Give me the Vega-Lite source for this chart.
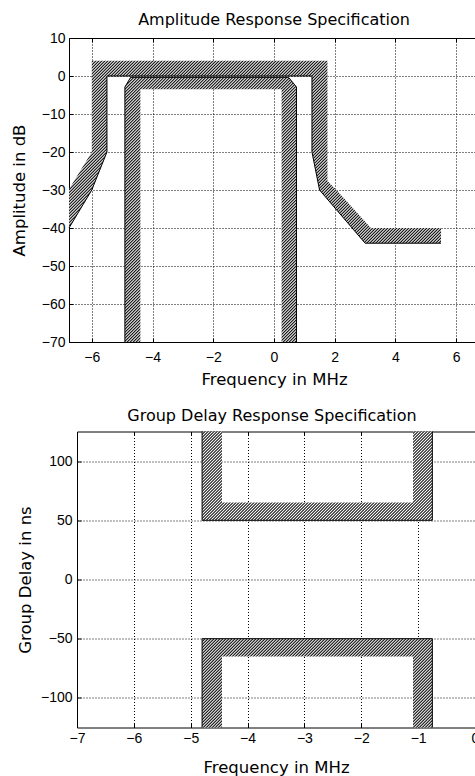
{
  "$schema": "https://vega.github.io/schema/vega-lite/v6.json",
  "padding": {"left": 10, "top": 11, "right": 0, "bottom": 0},
  "background": "white",
  "params": [
    {"name": "hatch", "value": [
{"offset":0,"color":"#000"},{"offset":0.0025,"color":"#fff"},{"offset":0.005,"color":"#000"},{"offset":0.0075,"color":"#fff"},
{"offset":0.01,"color":"#000"},{"offset":0.0125,"color":"#fff"},{"offset":0.015,"color":"#000"},{"offset":0.0175,"color":"#fff"},
{"offset":0.02,"color":"#000"},{"offset":0.0225,"color":"#fff"},{"offset":0.025,"color":"#000"},{"offset":0.0275,"color":"#fff"},
{"offset":0.03,"color":"#000"},{"offset":0.0325,"color":"#fff"},{"offset":0.035,"color":"#000"},{"offset":0.0375,"color":"#fff"},
{"offset":0.04,"color":"#000"},{"offset":0.0425,"color":"#fff"},{"offset":0.045,"color":"#000"},{"offset":0.0475,"color":"#fff"},
{"offset":0.05,"color":"#000"},{"offset":0.0525,"color":"#fff"},{"offset":0.055,"color":"#000"},{"offset":0.0575,"color":"#fff"},
{"offset":0.06,"color":"#000"},{"offset":0.0625,"color":"#fff"},{"offset":0.065,"color":"#000"},{"offset":0.0675,"color":"#fff"},
{"offset":0.07,"color":"#000"},{"offset":0.0725,"color":"#fff"},{"offset":0.075,"color":"#000"},{"offset":0.0775,"color":"#fff"},
{"offset":0.08,"color":"#000"},{"offset":0.0825,"color":"#fff"},{"offset":0.085,"color":"#000"},{"offset":0.0875,"color":"#fff"},
{"offset":0.09,"color":"#000"},{"offset":0.0925,"color":"#fff"},{"offset":0.095,"color":"#000"},{"offset":0.0975,"color":"#fff"},
{"offset":0.10,"color":"#000"},{"offset":0.1025,"color":"#fff"},{"offset":0.105,"color":"#000"},{"offset":0.1075,"color":"#fff"},
{"offset":0.11,"color":"#000"},{"offset":0.1125,"color":"#fff"},{"offset":0.115,"color":"#000"},{"offset":0.1175,"color":"#fff"},
{"offset":0.12,"color":"#000"},{"offset":0.1225,"color":"#fff"},{"offset":0.125,"color":"#000"},{"offset":0.1275,"color":"#fff"},
{"offset":0.13,"color":"#000"},{"offset":0.1325,"color":"#fff"},{"offset":0.135,"color":"#000"},{"offset":0.1375,"color":"#fff"},
{"offset":0.14,"color":"#000"},{"offset":0.1425,"color":"#fff"},{"offset":0.145,"color":"#000"},{"offset":0.1475,"color":"#fff"},
{"offset":0.15,"color":"#000"},{"offset":0.1525,"color":"#fff"},{"offset":0.155,"color":"#000"},{"offset":0.1575,"color":"#fff"},
{"offset":0.16,"color":"#000"},{"offset":0.1625,"color":"#fff"},{"offset":0.165,"color":"#000"},{"offset":0.1675,"color":"#fff"},
{"offset":0.17,"color":"#000"},{"offset":0.1725,"color":"#fff"},{"offset":0.175,"color":"#000"},{"offset":0.1775,"color":"#fff"},
{"offset":0.18,"color":"#000"},{"offset":0.1825,"color":"#fff"},{"offset":0.185,"color":"#000"},{"offset":0.1875,"color":"#fff"},
{"offset":0.19,"color":"#000"},{"offset":0.1925,"color":"#fff"},{"offset":0.195,"color":"#000"},{"offset":0.1975,"color":"#fff"},
{"offset":0.20,"color":"#000"},{"offset":0.2025,"color":"#fff"},{"offset":0.205,"color":"#000"},{"offset":0.2075,"color":"#fff"},
{"offset":0.21,"color":"#000"},{"offset":0.2125,"color":"#fff"},{"offset":0.215,"color":"#000"},{"offset":0.2175,"color":"#fff"},
{"offset":0.22,"color":"#000"},{"offset":0.2225,"color":"#fff"},{"offset":0.225,"color":"#000"},{"offset":0.2275,"color":"#fff"},
{"offset":0.23,"color":"#000"},{"offset":0.2325,"color":"#fff"},{"offset":0.235,"color":"#000"},{"offset":0.2375,"color":"#fff"},
{"offset":0.24,"color":"#000"},{"offset":0.2425,"color":"#fff"},{"offset":0.245,"color":"#000"},{"offset":0.2475,"color":"#fff"},
{"offset":0.25,"color":"#000"},{"offset":0.2525,"color":"#fff"},{"offset":0.255,"color":"#000"},{"offset":0.2575,"color":"#fff"},
{"offset":0.26,"color":"#000"},{"offset":0.2625,"color":"#fff"},{"offset":0.265,"color":"#000"},{"offset":0.2675,"color":"#fff"},
{"offset":0.27,"color":"#000"},{"offset":0.2725,"color":"#fff"},{"offset":0.275,"color":"#000"},{"offset":0.2775,"color":"#fff"},
{"offset":0.28,"color":"#000"},{"offset":0.2825,"color":"#fff"},{"offset":0.285,"color":"#000"},{"offset":0.2875,"color":"#fff"},
{"offset":0.29,"color":"#000"},{"offset":0.2925,"color":"#fff"},{"offset":0.295,"color":"#000"},{"offset":0.2975,"color":"#fff"},
{"offset":0.30,"color":"#000"},{"offset":0.3025,"color":"#fff"},{"offset":0.305,"color":"#000"},{"offset":0.3075,"color":"#fff"},
{"offset":0.31,"color":"#000"},{"offset":0.3125,"color":"#fff"},{"offset":0.315,"color":"#000"},{"offset":0.3175,"color":"#fff"},
{"offset":0.32,"color":"#000"},{"offset":0.3225,"color":"#fff"},{"offset":0.325,"color":"#000"},{"offset":0.3275,"color":"#fff"},
{"offset":0.33,"color":"#000"},{"offset":0.3325,"color":"#fff"},{"offset":0.335,"color":"#000"},{"offset":0.3375,"color":"#fff"},
{"offset":0.34,"color":"#000"},{"offset":0.3425,"color":"#fff"},{"offset":0.345,"color":"#000"},{"offset":0.3475,"color":"#fff"},
{"offset":0.35,"color":"#000"},{"offset":0.3525,"color":"#fff"},{"offset":0.355,"color":"#000"},{"offset":0.3575,"color":"#fff"},
{"offset":0.36,"color":"#000"},{"offset":0.3625,"color":"#fff"},{"offset":0.365,"color":"#000"},{"offset":0.3675,"color":"#fff"},
{"offset":0.37,"color":"#000"},{"offset":0.3725,"color":"#fff"},{"offset":0.375,"color":"#000"},{"offset":0.3775,"color":"#fff"},
{"offset":0.38,"color":"#000"},{"offset":0.3825,"color":"#fff"},{"offset":0.385,"color":"#000"},{"offset":0.3875,"color":"#fff"},
{"offset":0.39,"color":"#000"},{"offset":0.3925,"color":"#fff"},{"offset":0.395,"color":"#000"},{"offset":0.3975,"color":"#fff"},
{"offset":0.40,"color":"#000"},{"offset":0.4025,"color":"#fff"},{"offset":0.405,"color":"#000"},{"offset":0.4075,"color":"#fff"},
{"offset":0.41,"color":"#000"},{"offset":0.4125,"color":"#fff"},{"offset":0.415,"color":"#000"},{"offset":0.4175,"color":"#fff"},
{"offset":0.42,"color":"#000"},{"offset":0.4225,"color":"#fff"},{"offset":0.425,"color":"#000"},{"offset":0.4275,"color":"#fff"},
{"offset":0.43,"color":"#000"},{"offset":0.4325,"color":"#fff"},{"offset":0.435,"color":"#000"},{"offset":0.4375,"color":"#fff"},
{"offset":0.44,"color":"#000"},{"offset":0.4425,"color":"#fff"},{"offset":0.445,"color":"#000"},{"offset":0.4475,"color":"#fff"},
{"offset":0.45,"color":"#000"},{"offset":0.4525,"color":"#fff"},{"offset":0.455,"color":"#000"},{"offset":0.4575,"color":"#fff"},
{"offset":0.46,"color":"#000"},{"offset":0.4625,"color":"#fff"},{"offset":0.465,"color":"#000"},{"offset":0.4675,"color":"#fff"},
{"offset":0.47,"color":"#000"},{"offset":0.4725,"color":"#fff"},{"offset":0.475,"color":"#000"},{"offset":0.4775,"color":"#fff"},
{"offset":0.48,"color":"#000"},{"offset":0.4825,"color":"#fff"},{"offset":0.485,"color":"#000"},{"offset":0.4875,"color":"#fff"},
{"offset":0.49,"color":"#000"},{"offset":0.4925,"color":"#fff"},{"offset":0.495,"color":"#000"},{"offset":0.4975,"color":"#fff"},
{"offset":0.50,"color":"#000"},{"offset":0.5025,"color":"#fff"},{"offset":0.505,"color":"#000"},{"offset":0.5075,"color":"#fff"},
{"offset":0.51,"color":"#000"},{"offset":0.5125,"color":"#fff"},{"offset":0.515,"color":"#000"},{"offset":0.5175,"color":"#fff"},
{"offset":0.52,"color":"#000"},{"offset":0.5225,"color":"#fff"},{"offset":0.525,"color":"#000"},{"offset":0.5275,"color":"#fff"},
{"offset":0.53,"color":"#000"},{"offset":0.5325,"color":"#fff"},{"offset":0.535,"color":"#000"},{"offset":0.5375,"color":"#fff"},
{"offset":0.54,"color":"#000"},{"offset":0.5425,"color":"#fff"},{"offset":0.545,"color":"#000"},{"offset":0.5475,"color":"#fff"},
{"offset":0.55,"color":"#000"},{"offset":0.5525,"color":"#fff"},{"offset":0.555,"color":"#000"},{"offset":0.5575,"color":"#fff"},
{"offset":0.56,"color":"#000"},{"offset":0.5625,"color":"#fff"},{"offset":0.565,"color":"#000"},{"offset":0.5675,"color":"#fff"},
{"offset":0.57,"color":"#000"},{"offset":0.5725,"color":"#fff"},{"offset":0.575,"color":"#000"},{"offset":0.5775,"color":"#fff"},
{"offset":0.58,"color":"#000"},{"offset":0.5825,"color":"#fff"},{"offset":0.585,"color":"#000"},{"offset":0.5875,"color":"#fff"},
{"offset":0.59,"color":"#000"},{"offset":0.5925,"color":"#fff"},{"offset":0.595,"color":"#000"},{"offset":0.5975,"color":"#fff"},
{"offset":0.60,"color":"#000"},{"offset":0.6025,"color":"#fff"},{"offset":0.605,"color":"#000"},{"offset":0.6075,"color":"#fff"},
{"offset":0.61,"color":"#000"},{"offset":0.6125,"color":"#fff"},{"offset":0.615,"color":"#000"},{"offset":0.6175,"color":"#fff"},
{"offset":0.62,"color":"#000"},{"offset":0.6225,"color":"#fff"},{"offset":0.625,"color":"#000"},{"offset":0.6275,"color":"#fff"},
{"offset":0.63,"color":"#000"},{"offset":0.6325,"color":"#fff"},{"offset":0.635,"color":"#000"},{"offset":0.6375,"color":"#fff"},
{"offset":0.64,"color":"#000"},{"offset":0.6425,"color":"#fff"},{"offset":0.645,"color":"#000"},{"offset":0.6475,"color":"#fff"},
{"offset":0.65,"color":"#000"},{"offset":0.6525,"color":"#fff"},{"offset":0.655,"color":"#000"},{"offset":0.6575,"color":"#fff"},
{"offset":0.66,"color":"#000"},{"offset":0.6625,"color":"#fff"},{"offset":0.665,"color":"#000"},{"offset":0.6675,"color":"#fff"},
{"offset":0.67,"color":"#000"},{"offset":0.6725,"color":"#fff"},{"offset":0.675,"color":"#000"},{"offset":0.6775,"color":"#fff"},
{"offset":0.68,"color":"#000"},{"offset":0.6825,"color":"#fff"},{"offset":0.685,"color":"#000"},{"offset":0.6875,"color":"#fff"},
{"offset":0.69,"color":"#000"},{"offset":0.6925,"color":"#fff"},{"offset":0.695,"color":"#000"},{"offset":0.6975,"color":"#fff"},
{"offset":0.70,"color":"#000"},{"offset":0.7025,"color":"#fff"},{"offset":0.705,"color":"#000"},{"offset":0.7075,"color":"#fff"},
{"offset":0.71,"color":"#000"},{"offset":0.7125,"color":"#fff"},{"offset":0.715,"color":"#000"},{"offset":0.7175,"color":"#fff"},
{"offset":0.72,"color":"#000"},{"offset":0.7225,"color":"#fff"},{"offset":0.725,"color":"#000"},{"offset":0.7275,"color":"#fff"},
{"offset":0.73,"color":"#000"},{"offset":0.7325,"color":"#fff"},{"offset":0.735,"color":"#000"},{"offset":0.7375,"color":"#fff"},
{"offset":0.74,"color":"#000"},{"offset":0.7425,"color":"#fff"},{"offset":0.745,"color":"#000"},{"offset":0.7475,"color":"#fff"},
{"offset":0.75,"color":"#000"},{"offset":0.7525,"color":"#fff"},{"offset":0.755,"color":"#000"},{"offset":0.7575,"color":"#fff"},
{"offset":0.76,"color":"#000"},{"offset":0.7625,"color":"#fff"},{"offset":0.765,"color":"#000"},{"offset":0.7675,"color":"#fff"},
{"offset":0.77,"color":"#000"},{"offset":0.7725,"color":"#fff"},{"offset":0.775,"color":"#000"},{"offset":0.7775,"color":"#fff"},
{"offset":0.78,"color":"#000"},{"offset":0.7825,"color":"#fff"},{"offset":0.785,"color":"#000"},{"offset":0.7875,"color":"#fff"},
{"offset":0.79,"color":"#000"},{"offset":0.7925,"color":"#fff"},{"offset":0.795,"color":"#000"},{"offset":0.7975,"color":"#fff"},
{"offset":0.80,"color":"#000"},{"offset":0.8025,"color":"#fff"},{"offset":0.805,"color":"#000"},{"offset":0.8075,"color":"#fff"},
{"offset":0.81,"color":"#000"},{"offset":0.8125,"color":"#fff"},{"offset":0.815,"color":"#000"},{"offset":0.8175,"color":"#fff"},
{"offset":0.82,"color":"#000"},{"offset":0.8225,"color":"#fff"},{"offset":0.825,"color":"#000"},{"offset":0.8275,"color":"#fff"},
{"offset":0.83,"color":"#000"},{"offset":0.8325,"color":"#fff"},{"offset":0.835,"color":"#000"},{"offset":0.8375,"color":"#fff"},
{"offset":0.84,"color":"#000"},{"offset":0.8425,"color":"#fff"},{"offset":0.845,"color":"#000"},{"offset":0.8475,"color":"#fff"},
{"offset":0.85,"color":"#000"},{"offset":0.8525,"color":"#fff"},{"offset":0.855,"color":"#000"},{"offset":0.8575,"color":"#fff"},
{"offset":0.86,"color":"#000"},{"offset":0.8625,"color":"#fff"},{"offset":0.865,"color":"#000"},{"offset":0.8675,"color":"#fff"},
{"offset":0.87,"color":"#000"},{"offset":0.8725,"color":"#fff"},{"offset":0.875,"color":"#000"},{"offset":0.8775,"color":"#fff"},
{"offset":0.88,"color":"#000"},{"offset":0.8825,"color":"#fff"},{"offset":0.885,"color":"#000"},{"offset":0.8875,"color":"#fff"},
{"offset":0.89,"color":"#000"},{"offset":0.8925,"color":"#fff"},{"offset":0.895,"color":"#000"},{"offset":0.8975,"color":"#fff"},
{"offset":0.90,"color":"#000"},{"offset":0.9025,"color":"#fff"},{"offset":0.905,"color":"#000"},{"offset":0.9075,"color":"#fff"},
{"offset":0.91,"color":"#000"},{"offset":0.9125,"color":"#fff"},{"offset":0.915,"color":"#000"},{"offset":0.9175,"color":"#fff"},
{"offset":0.92,"color":"#000"},{"offset":0.9225,"color":"#fff"},{"offset":0.925,"color":"#000"},{"offset":0.9275,"color":"#fff"},
{"offset":0.93,"color":"#000"},{"offset":0.9325,"color":"#fff"},{"offset":0.935,"color":"#000"},{"offset":0.9375,"color":"#fff"}
    ]}
  ],
  "datasets": {
    "ampOuterHatch": [
      {"i": 1, "f": -6.75, "v": -29.8}, {"i": 2, "f": -6, "v": -20}, {"i": 3, "f": -6, "v": 4},
      {"i": 4, "f": 1.76, "v": 4}, {"i": 5, "f": 1.76, "v": -27.6}, {"i": 6, "f": 2.04, "v": -29.9},
      {"i": 7, "f": 3.19, "v": -40}, {"i": 8, "f": 5.5, "v": -40}, {"i": 9, "f": 5.5, "v": -44},
      {"i": 10, "f": 3, "v": -44}, {"i": 11, "f": 1.5, "v": -30}, {"i": 12, "f": 1.25, "v": -20},
      {"i": 13, "f": 1.25, "v": 0}, {"i": 14, "f": -5.5, "v": 0}, {"i": 15, "f": -5.5, "v": -20},
      {"i": 16, "f": -6, "v": -30}, {"i": 17, "f": -6.75, "v": -40}
    ],
    "ampInnerHatch": [
      {"i": 1, "f": -4.91, "v": -70}, {"i": 2, "f": -4.91, "v": -2.9}, {"i": 3, "f": -4.72, "v": -0.35},
      {"i": 4, "f": 0.48, "v": -0.35}, {"i": 5, "f": 0.74, "v": -2.9}, {"i": 6, "f": 0.74, "v": -70},
      {"i": 7, "f": 0.25, "v": -70}, {"i": 8, "f": 0.25, "v": -3.5}, {"i": 9, "f": -4.4, "v": -3.5},
      {"i": 10, "f": -4.4, "v": -70}
    ],
    "ampOuterLine": [
      {"i": 1, "f": -6.75, "v": -40}, {"i": 2, "f": -6, "v": -30}, {"i": 3, "f": -5.5, "v": -20},
      {"i": 4, "f": -5.5, "v": 0}, {"i": 5, "f": 1.25, "v": 0}, {"i": 6, "f": 1.25, "v": -20},
      {"i": 7, "f": 1.5, "v": -30}, {"i": 8, "f": 3, "v": -44}, {"i": 9, "f": 5.5, "v": -44}
    ],
    "ampInnerLine": [
      {"i": 1, "f": -4.91, "v": -70}, {"i": 2, "f": -4.91, "v": -2.9}, {"i": 3, "f": -4.72, "v": -0.35},
      {"i": 4, "f": 0.48, "v": -0.35}, {"i": 5, "f": 0.74, "v": -2.9}, {"i": 6, "f": 0.74, "v": -70}
    ],
    "gdUpperHatch": [
      {"i": 1, "f": -4.8, "v": 125}, {"i": 2, "f": -4.8, "v": 50}, {"i": 3, "f": -0.75, "v": 50},
      {"i": 4, "f": -0.75, "v": 125}, {"i": 5, "f": -1.09, "v": 125}, {"i": 6, "f": -1.09, "v": 65},
      {"i": 7, "f": -4.45, "v": 65}, {"i": 8, "f": -4.45, "v": 125}
    ],
    "gdLowerHatch": [
      {"i": 1, "f": -4.8, "v": -125}, {"i": 2, "f": -4.8, "v": -50}, {"i": 3, "f": -0.75, "v": -50},
      {"i": 4, "f": -0.75, "v": -125}, {"i": 5, "f": -1.09, "v": -125}, {"i": 6, "f": -1.09, "v": -65},
      {"i": 7, "f": -4.45, "v": -65}, {"i": 8, "f": -4.45, "v": -125}
    ],
    "gdUpperLine": [
      {"i": 1, "f": -4.8, "v": 125}, {"i": 2, "f": -4.8, "v": 50}, {"i": 3, "f": -0.75, "v": 50},
      {"i": 4, "f": -0.75, "v": 125}
    ],
    "gdLowerLine": [
      {"i": 1, "f": -4.8, "v": -125}, {"i": 2, "f": -4.8, "v": -50}, {"i": 3, "f": -0.75, "v": -50},
      {"i": 4, "f": -0.75, "v": -125}
    ]
  },
  "spacing": 19.5,
  "vconcat": [
    {
      "width": 410,
      "height": 304,
      "title": {"text": "Amplitude Response Specification", "frame": "group", "offset": 3.5},
      "view": {"stroke": "black", "strokeWidth": 1},
      "resolve": {"axis": {"x": "independent"}},
      "encoding": {
        "x": {"field": "f", "type": "quantitative",
          "scale": {"domain": [-6.75, 6.75], "nice": false, "zero": false},
          "axis": null},
        "y": {"field": "v", "type": "quantitative",
          "scale": {"domain": [-70, 10], "nice": false, "zero": false},
          "axis": {"title": "Amplitude in dB", "values": [-70, -60, -50, -40, -30, -20, -10, 0, 10], "domain": false, "labelPadding": 8, "titlePadding": 14}},
        "order": {"field": "i", "type": "quantitative"}
      },
      "layer": [
        {"data": {"name": "ampOuterHatch"},
         "encoding": {"x": {"field": "f", "type": "quantitative",
           "scale": {"domain": [-6.75, 6.75], "nice": false, "zero": false},
           "axis": {"title": "Frequency in MHz", "values": [-6, -4, -2, 0, 2, 4, 6], "domain": false, "labelPadding": 12, "titlePadding": 7}}},
         "mark": {"type": "line", "interpolate": "linear-closed", "strokeOpacity": 0,
                  "fill": {"expr": "{gradient: 'linear', x1: 0, y1: 0, x2: 1.3003, y2: 0.6376, stops: hatch}"}}},
        {"data": {"name": "ampInnerHatch"},
         "encoding": {"x": {"field": "f", "type": "quantitative",
           "scale": {"domain": [-6.75, 6.75], "nice": false, "zero": false},
           "axis": {"orient": "top", "title": null, "labels": false, "grid": false, "domain": false, "values": [-6, -4, -2, 0, 2, 4, 6]}}},
         "mark": {"type": "line", "interpolate": "linear-closed", "strokeOpacity": 0,
                  "fill": {"expr": "{gradient: 'linear', x1: 0, y1: 0, x2: 1.0346, y2: 1.596, stops: hatch}"}}},
        {"data": {"name": "ampOuterLine"},
         "mark": {"type": "line", "color": "black", "strokeWidth": 1}},
        {"data": {"name": "ampInnerLine"},
         "mark": {"type": "line", "color": "black", "strokeWidth": 1}}
      ]
    },
    {
      "width": 406,
      "height": 296,
      "title": {"text": "Group Delay Response Specification", "frame": "group", "offset": 6},
      "resolve": {"axis": {"x": "independent"}},
      "encoding": {
        "x": {"field": "f", "type": "quantitative",
          "scale": {"domain": [-7, 0], "range": [8, 406], "nice": false, "zero": false},
          "axis": null},
        "y": {"field": "v", "type": "quantitative",
          "scale": {"domain": [-125, 125], "nice": false, "zero": false},
          "axis": {"title": "Group Delay in ns", "values": [-100, -50, 0, 50, 100], "offset": -8, "domain": true, "labelPadding": 9, "titlePadding": 6.5}},
        "order": {"field": "i", "type": "quantitative"}
      },
      "layer": [
        {"data": {"name": "gdUpperHatch"},
         "encoding": {"x": {"field": "f", "type": "quantitative",
           "scale": {"domain": [-7, 0], "range": [8, 406], "nice": false, "zero": false},
           "axis": {"title": "Frequency in MHz", "values": [-7, -6, -5, -4, -3, -2, -1, 0], "domain": true, "labelPadding": 7.5, "titlePadding": 14}}},
         "mark": {"type": "line", "interpolate": "linear-closed", "strokeOpacity": 0,
                  "fill": {"expr": "{gradient: 'linear', x1: 0, y1: 0, x2: 2.268, y2: 0.8746, stops: hatch}"}}},
        {"data": {"name": "gdLowerHatch"},
         "encoding": {"x": {"field": "f", "type": "quantitative",
           "scale": {"domain": [-7, 0], "range": [8, 406], "nice": false, "zero": false},
           "axis": {"orient": "top", "title": null, "labels": false, "grid": false, "domain": true, "values": [-7, -6, -5, -4, -3, -2, -1, 0]}}},
         "mark": {"type": "line", "interpolate": "linear-closed", "strokeOpacity": 0,
                  "fill": {"expr": "{gradient: 'linear', x1: 0, y1: 0, x2: 2.268, y2: 0.8746, stops: hatch}"}}},
        {"data": {"name": "gdUpperLine"},
         "mark": {"type": "line", "color": "black", "strokeWidth": 1}},
        {"data": {"name": "gdLowerLine"},
         "mark": {"type": "line", "color": "black", "strokeWidth": 1}}
      ]
    }
  ],
  "config": {
    "view": {"stroke": null},
    "title": {"font": "DejaVu Sans", "fontSize": 16, "fontWeight": "normal", "color": "black"},
    "axis": {
      "labelFont": "Liberation Sans", "labelFontSize": 14, "labelColor": "black", "labelFlush": false,
      "titleFont": "DejaVu Sans", "titleFontSize": 16.5, "titleFontWeight": "normal", "titleColor": "black",
      "ticks": true, "tickSize": -4, "tickColor": "black", "tickWidth": 1,
      "titlePadding": 10,
      "grid": true, "gridColor": "black", "gridDash": [1, 2], "gridOpacity": 1, "gridWidth": 1,
      "domainColor": "black", "domainWidth": 1
    }
  }
}
